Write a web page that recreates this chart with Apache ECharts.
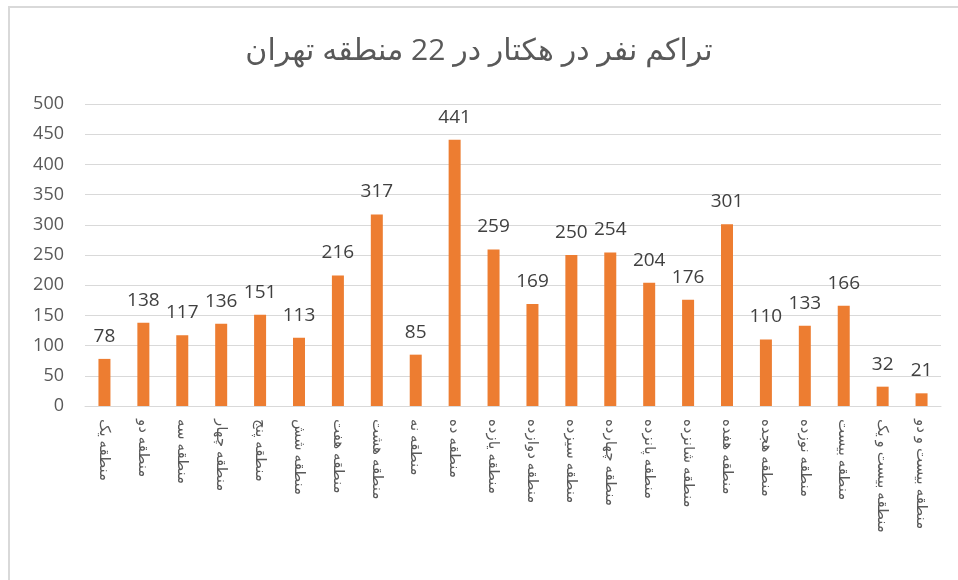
<!DOCTYPE html>
<html>
<head>
<meta charset="UTF-8">
<title>تراکم نفر در هکتار</title>
<script src="https://cdn.jsdelivr.net/npm/echarts@6/dist/echarts.min.js"></script>
<style>
  html, body { margin: 0; padding: 0; background: #fff; }
</style>
</head>
<body>
<div id="main" style="width:958px;height:580px"></div>
<script>
// مناطق تهران
var regions = ['منطقه یک', 'منطقه دو', 'منطقه سه', 'منطقه چهار', 'منطقه پنج', 'منطقه شش',
  'منطقه هفت', 'منطقه هشت', 'منطقه نه', 'منطقه ده', 'منطقه یازده', 'منطقه دوازده',
  'منطقه سیزده', 'منطقه چهارده', 'منطقه پانزده', 'منطقه شانزده', 'منطقه هفده',
  'منطقه هجده', 'منطقه نوزده', 'منطقه بیست', 'منطقه بیست و یک', 'منطقه بیست و دو'];
var density = [78, 138, 117, 136, 151, 113, 216, 317, 85, 441, 259, 169, 250, 254, 204, 176, 301, 110, 133, 166, 32, 21];
var yTicks = { min: 0, max: 500, step: 50 };

var font = "'Open Sans', 'DejaVu Sans', sans-serif";
var chart = echarts.init(document.getElementById('main'));

var option = {
  animation: false,
  textStyle: { fontFamily: font },
  title: {
    text: 'تراکم نفر در هکتار در 22 منطقه تهران',
    left: 'center',
    top: 31,
    textStyle: { fontSize: 30, fontWeight: 'normal', color: '#595959', fontFamily: font }
  },
  graphic: [{
    // chart frame (Excel-like border, cut off at right and bottom)
    type: 'rect',
    shape: { x: 9, y: 7, width: 1000, height: 700 },
    style: { fill: null, stroke: '#d9d9d9', lineWidth: 2 },
    silent: true
  }],
  grid: { left: 85, right: 17, top: 104, bottom: 174, containLabel: false },
  xAxis: {
    type: 'category',
    data: regions,
    axisLine: { lineStyle: { color: '#d9d9d9', width: 1 } },
    axisTick: { show: false },
    axisLabel: {
      rotate: -90,
      interval: 0,
      margin: 13,
      fontSize: 15,
      color: '#595959',
      fontFamily: font
    }
  },
  yAxis: {
    type: 'value',
    min: yTicks.min,
    max: yTicks.max,
    interval: yTicks.step,
    axisLine: { show: false },
    axisTick: { show: false },
    splitLine: { lineStyle: { color: '#d9d9d9', width: 1 } },
    axisLabel: { fontSize: 18, color: '#595959', margin: 21, fontFamily: font }
  },
  series: [{
    type: 'bar',
    data: density,
    barWidth: 12,
    itemStyle: { color: '#ed7d31' },
    label: {
      show: true,
      position: 'top',
      distance: 13,
      fontSize: 19,
      color: '#404040',
      fontFamily: font
    }
  }]
};

chart.setOption(option);
</script>
</body>
</html>
